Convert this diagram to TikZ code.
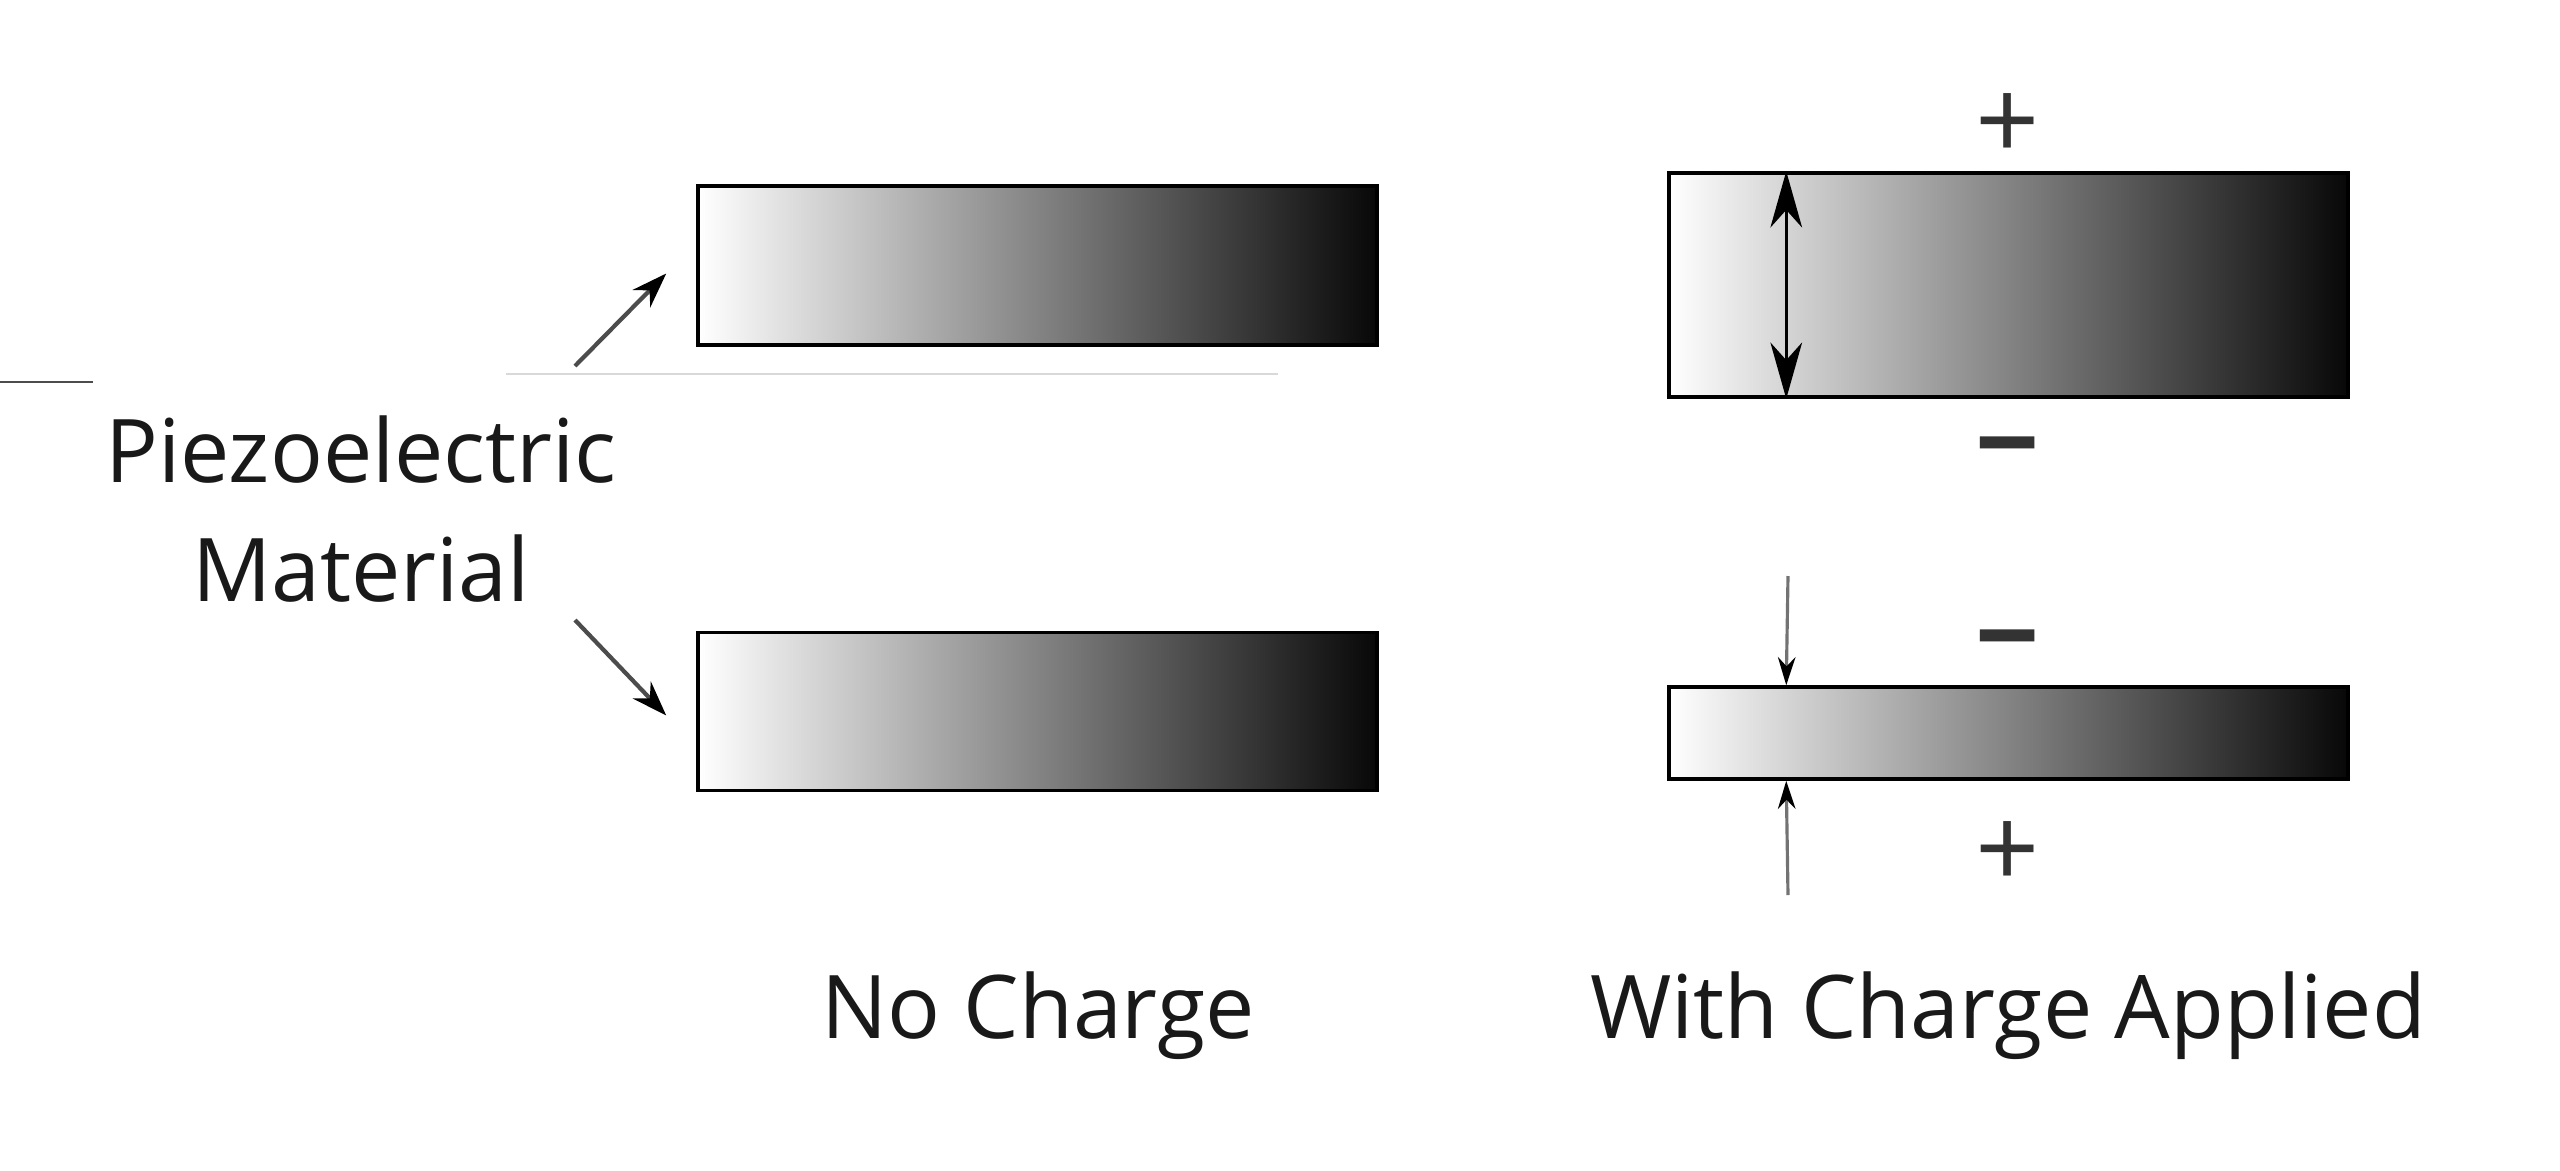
\documentclass[tikz,border=0pt]{standalone}
\usepackage{fontspec}
\setmainfont{Open Sans}
\usetikzlibrary{positioning,calc,arrows.meta}

\begin{document}
\begin{tikzpicture}[x=0.1mm,y=-0.1mm,
    bar/.style={draw=black,line width=1pt,left color=white,right color=black!97,inner sep=0pt,minimum width=67.9mm},
    caption/.style={font=\fontsize{25}{34}\selectfont,text=black!90,anchor=base},
    sign/.style={font=\fontsize{32}{32}\selectfont,text=black!80},
    pointer/.style={-{Stealth[length=10pt,width=7pt,color=black]},line width=1.2pt,black!70},
    squeeze/.style={-{Stealth[length=8pt,width=5pt,color=black]},line width=0.9pt,black!55},
    stretch/.style={{Stealth[length=16pt,width=9pt,inset=5pt]}-{Stealth[length=16pt,width=9pt,inset=5pt]},line width=1pt}]
    \useasboundingbox (0,0) rectangle (2560,1170);
    % faint guide lines
    \draw[black!70,line width=0.6pt] (0,382) -- (93,382);
    \draw[black!15,line width=0.6pt] (506,374) -- (1278,374);
    % No charge
    \node[bar,minimum height=15.9mm] (ncTop) at (1037.5,265.5) {};
    \node[bar,minimum height=15.8mm] (ncBot) at (1037.5,711.5) {};
    \node[caption] (ncLbl) at (1038,1038) {No Charge};
    % Label with pointers
    \node[caption,align=center,anchor=center] (piezo) at (361,509) {Piezoelectric\\Material};
    \coordinate (pUp) at (575,366);
    \coordinate (pDn) at (575,620);
    \draw[pointer] (pUp) -- ($(ncTop.west)+(-30,8)$);
    \draw[pointer] (pDn) -- ($(ncBot.west)+(-30,4)$);
    % With charge applied
    \node[bar,minimum height=22.4mm] (wcTop) at (2008.5,285) {};
    \node[bar,minimum height=9.2mm] (wcBot) at (2008.5,733) {};
    \node[caption] (wcLbl) at (2008,1038) {With Charge Applied};
    \node[sign] (plusA) at (2008,127) {+};
    \node[sign,font=\fontsize{32}{32}\selectfont\bfseries] (minusA) at (2008,460) {−};
    \node[sign,font=\fontsize{32}{32}\selectfont\bfseries] (minusB) at (2008,653) {−};
    \node[sign] (plusB) at (2008,855) {+};
    % Expansion and compression
    \draw[stretch] ($(wcTop.north west)+(119,0)$) -- ($(wcTop.south west)+(119,0)$);
    \coordinate (sqTop) at (1788,576);
    \coordinate (sqBot) at (1788,895);
    \draw[squeeze] (sqTop) -- ($(wcBot.north west)+(119,0)$);
    \draw[squeeze] (sqBot) -- ($(wcBot.south west)+(119,0)$);
\end{tikzpicture}
\end{document}
